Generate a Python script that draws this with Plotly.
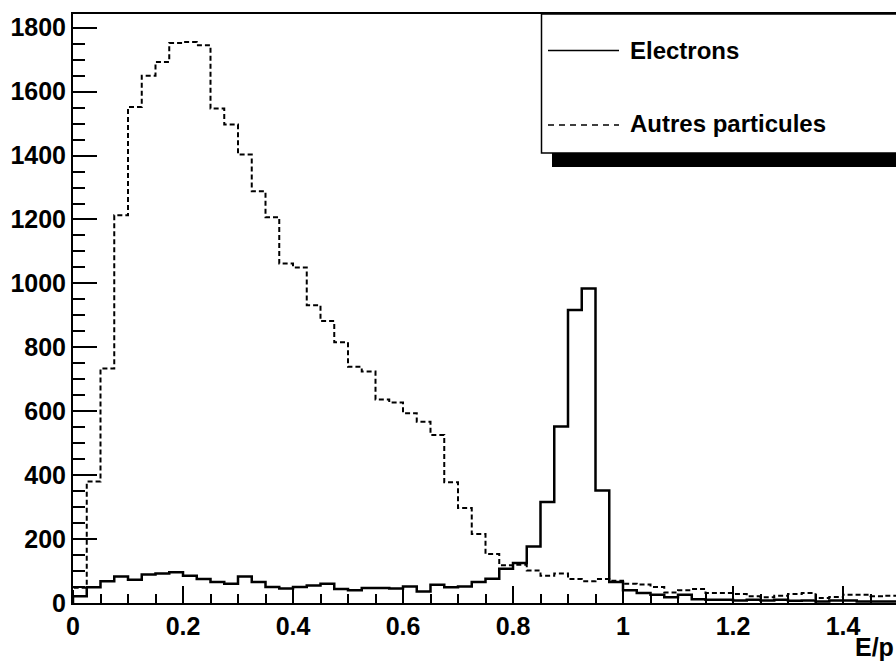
import numpy as np
import plotly.graph_objects as go

# ---- data ----
bin_width = 0.025
n_bins = 60
x_min = 0.0

electrons = [21, 49, 68, 83, 73, 89, 92, 96, 85, 75,
             66, 60, 83, 66, 50, 45, 50, 55, 60, 44,
             40, 47, 47, 45, 52, 36, 57, 49, 52, 66,
             76, 107, 125, 177, 316, 552, 917, 984, 352, 66,
             40, 31, 26, 18, 26, 12, 10, 10, 8, 10,
             8, 10, 7, 8, 5, 8, 8, 5, 5, 5]

autres = [48, 380, 734, 1213, 1552, 1650, 1693, 1752, 1755, 1745,
          1547, 1497, 1403, 1288, 1207, 1062, 1050, 932, 882, 816,
          739, 724, 637, 627, 594, 567, 526, 378, 297, 216,
          153, 118, 120, 102, 85, 92, 75, 68, 75, 70,
          60, 58, 50, 33, 40, 44, 31, 31, 28, 21,
          18, 23, 28, 31, 16, 19, 26, 26, 21, 23]

legend_labels = ["Electrons", "Autres particules"]
x_title = "E/p"

edges = x_min + bin_width * np.arange(n_bins + 1)


def step_xy(counts):
    xs = np.concatenate([[edges[0]], edges[:-1], [edges[-1], edges[-1]]])
    ys = np.concatenate([[0], counts, [counts[-1], 0]])
    return xs, ys


FIG_W, FIG_H = 896, 663
ML, MR, MT, MB = 73, 0, 14, 60
PW = FIG_W - ML - MR
PH = FIG_H - MT - MB


def px(x):
    return (x - ML) / PW


def py(y):
    return (FIG_H - MB - y) / PH


fig = go.Figure()
xs, ys = step_xy(autres)
fig.add_trace(go.Scatter(x=xs, y=ys, mode="lines", line_shape="hv",
                         line=dict(color="black", width=2, dash="5px,3px"),
                         name=legend_labels[1], showlegend=False))
xs, ys = step_xy(electrons)
fig.add_trace(go.Scatter(x=xs, y=ys, mode="lines", line_shape="hv",
                         line=dict(color="black", width=2.5),
                         name=legend_labels[0], showlegend=False))

font_family = "Liberation Sans, Arial, Helvetica, sans-serif"
tickfont = dict(family=font_family, size=25, color="black", weight="bold")

fig.update_layout(
    width=FIG_W, height=FIG_H,
    margin=dict(l=ML, r=MR, t=MT, b=MB, pad=0),
    paper_bgcolor="white", plot_bgcolor="white",
    showlegend=False,
    xaxis=dict(range=[0, PW / 550.0], dtick=0.2, tick0=0,
               ticks="inside", ticklen=17, tickwidth=2, tickcolor="black",
               minor=dict(dtick=0.05, ticks="inside", ticklen=9, tickwidth=2, tickcolor="black"),
               showline=True, linecolor="black", linewidth=2, mirror=True,
               showgrid=False, zeroline=False, tickfont=tickfont),
    yaxis=dict(range=[0, 1843], dtick=200, tick0=0,
               ticks="inside", ticklen=24, tickwidth=2, tickcolor="black",
               minor=dict(dtick=50, ticks="inside", ticklen=12, tickwidth=2, tickcolor="black"),
               showline=True, linecolor="black", linewidth=2,
               showgrid=False, zeroline=False, tickfont=tickfont),
)

# axis title at the right end of the x axis
fig.add_annotation(text=x_title, xref="paper", yref="paper",
                   x=px(895), y=py(662), xanchor="right", yanchor="bottom",
                   borderpad=0, showarrow=False, font=tickfont)

# legend box (ROOT style with shadow)
fig.add_shape(type="rect", xref="paper", yref="paper",
              x0=px(552), x1=px(905), y0=py(167), y1=py(150),
              fillcolor="black", line=dict(width=0), layer="above")
fig.add_shape(type="rect", xref="paper", yref="paper",
              x0=px(541.5), x1=px(905), y0=py(153), y1=py(14),
              fillcolor="white", line=dict(color="black", width=1.5), layer="above")
fig.add_shape(type="line", xref="paper", yref="paper",
              x0=px(548), x1=px(619), y0=py(50.5), y1=py(50.5),
              line=dict(color="black", width=1.5), layer="above")
fig.add_shape(type="line", xref="paper", yref="paper",
              x0=px(548), x1=px(619), y0=py(125), y1=py(125),
              line=dict(color="black", width=1.5, dash="6px,5px"), layer="above")
legend_font = dict(family=font_family, size=24, color="black", weight="bold")
fig.add_annotation(text=legend_labels[0], xref="paper", yref="paper",
                   x=px(628), y=py(50), xanchor="left", yanchor="middle",
                   showarrow=False, font=legend_font)
fig.add_annotation(text=legend_labels[1], xref="paper", yref="paper",
                   x=px(628), y=py(124), xanchor="left", yanchor="middle",
                   showarrow=False, font=legend_font)

fig.write_html("out.html")
